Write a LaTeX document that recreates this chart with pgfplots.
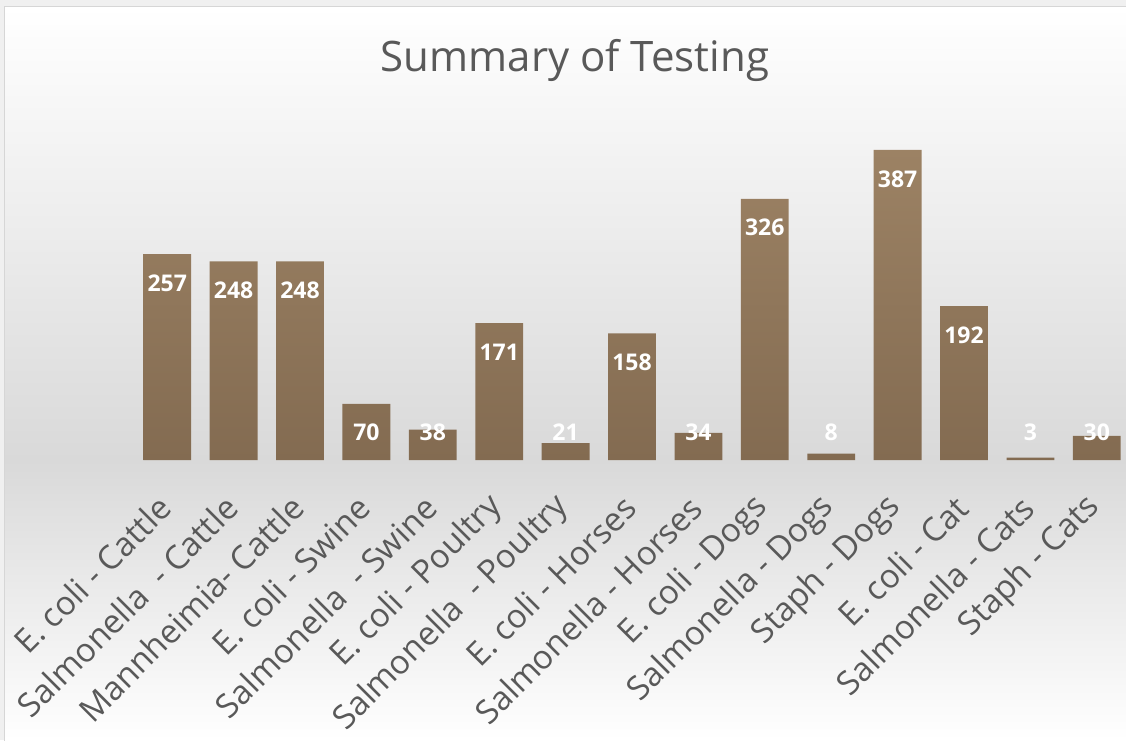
\documentclass[border=0pt]{standalone}
\usepackage{pgfplots}
\usepackage{pgfplotstable}
\pgfplotsset{compat=1.18}
\usepackage{fontspec}
\setmainfont{Open Sans}
\definecolor{textgray}{HTML}{595959}
\definecolor{bgmid}{HTML}{D9D9D9}
\definecolor{bartop}{HTML}{9C8264}
\definecolor{barbot}{HTML}{836B51}
\definecolor{outer}{HTML}{F0F0F0}
\definecolor{border}{HTML}{D6D6D6}

\pgfplotstableread{
x y ly
0 257 221
1 248 212
2 248 212
3 70 35
4 38 35
5 171 135
6 21 35
7 158 122
8 34 35
9 326 290
10 8 35
11 387 351
12 192 156
13 3 35
14 30 35
}\datatable

\begin{document}
\begin{tikzpicture}[x=1pt,y=1pt]
\useasboundingbox (0,0) rectangle (1126,740);
\fill[outer] (0,0) rectangle (1126,740);
\shade[bottom color=white, top color=bgmid] (4.5,0) rectangle (1135,280);
\shade[bottom color=bgmid, top color=white] (4.5,280) rectangle (1135,733.5);
\draw[border, line width=1.2pt] (4.5,-5) -- (4.5,733.5) -- (1135,733.5);
\node[text=textgray, font=\fontsize{42}{42}\selectfont, anchor=base] at (575,668) {Summary of Testing};
\begin{axis}[
  at={(134pt,280pt)}, anchor=south west,
  scale only axis, width=996pt, height=360.5pt,
  xmin=-0.5, xmax=14.5, ymin=0, ymax=450,
  axis x line*=bottom, axis y line=none,
  x axis line style={draw=none},
  major tick length=0pt,
  ytick=\empty,
  xtick={0,...,14},
  /pgf/number format/assume math mode=true,
  xticklabels={E. coli - Cattle, Salmonella\ \ - Cattle, Mannheimia- Cattle, E. coli - Swine, Salmonella\ \ - Swine, E. coli - Poultry, Salmonella\ \ - Poultry, E. coli - Horses, Salmonella - Horses, E. coli - Dogs, Salmonella - Dogs, Staph - Dogs, E. coli - Cat, Salmonella - Cats, Staph - Cats},
  xticklabel style={xshift=-2pt, yshift=-42pt, rotate=45, anchor=east, inner sep=0pt, text=textgray, font=\fontsize{33}{33}\selectfont},
  clip=false,
]
\addplot[ybar, bar width=0.72, bar shift=0pt, draw=none, top color=bartop, bottom color=barbot] table[x=x, y=y] {\datatable};
\addplot[only marks, mark=none, nodes near coords, point meta=explicit,
  nodes near coords style={anchor=center, text=white, font=\bfseries\fontsize{23}{23}\selectfont}]
  table[x=x, y=ly, meta=y] {\datatable};
\end{axis}
\end{tikzpicture}
\end{document}
